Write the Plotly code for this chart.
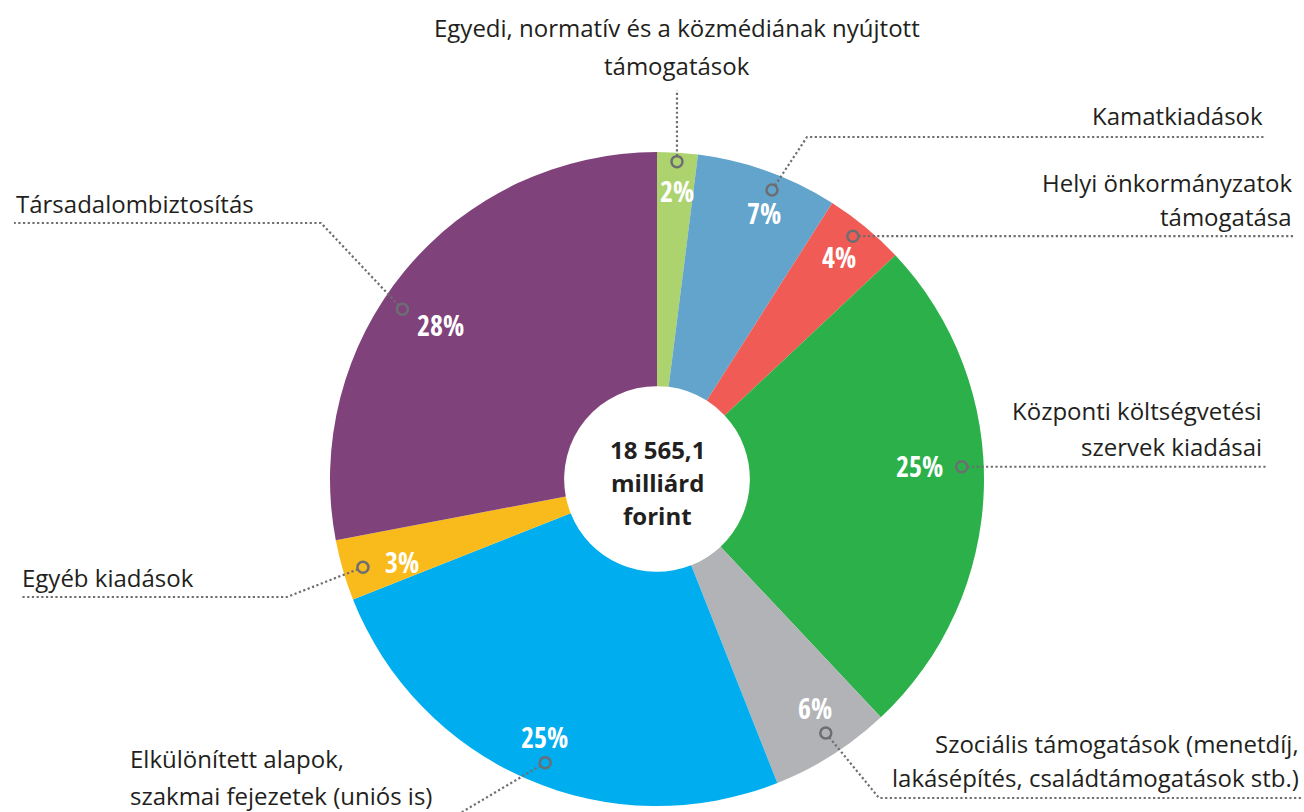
import math
import plotly.graph_objects as go

W, H = 1304, 812

# Budget expenditure categories, clockwise from 12 o'clock
categories = [
    "Egyedi, normatív és a közmédiának nyújtott támogatások",
    "Kamatkiadások",
    "Helyi önkormányzatok támogatása",
    "Központi költségvetési szervek kiadásai",
    "Szociális támogatások (menetdíj, lakásépítés, családtámogatások stb.)",
    "Elkülönített alapok, szakmai fejezetek (uniós is)",
    "Egyéb kiadások",
    "Társadalombiztosítás",
]
shares = [2, 7, 4, 25, 6, 25, 3, 28]
center_lines = ["18 565,1", "milliárd", "forint"]

# How each category name wraps on the page
label_lines = [
    ["Egyedi, normatív és a közmédiának nyújtott", "támogatások"],
    ["Kamatkiadások"],
    ["Helyi önkormányzatok", "támogatása"],
    ["Központi költségvetési", "szervek kiadásai"],
    ["Szociális támogatások (menetdíj,", "lakásépítés, családtámogatások stb.)"],
    ["Elkülönített alapok,", "szakmai fejezetek (uniós is)"],
    ["Egyéb kiadások"],
    ["Társadalombiztosítás"],
]

colors = ["#add36f", "#62a4cb", "#f05c55", "#2cb04a",
          "#b2b3b6", "#00adee", "#f9bb1b", "#80427b"]

# ---- styling / layout -------------------------------------------------
TEXT = "#231f20"
GREY = "#6d6e71"
LABEL_FONT = "'Open Sans', 'Noto Sans', sans-serif"
PCT_FONT = ("'Noto Sans Condensed', 'Open Sans Condensed', 'Roboto Condensed', "
            "'Liberation Sans Narrow', 'DejaVu Sans Condensed', sans-serif")
CX, CY, R = 657, 479, 327          # pie centre and radius (px)
HOLE = 0.284

# callout ring: angular nudge (deg) and radius (px) per slice
ring_nudge = [0, 1.9, -0.7, -4.1, -1.2, -1.9, -0.5, -5.9]
ring_rad = [318, 311, 312, 305, 305, 305, 307, 306]
# percentage text: angular nudge (deg) and radius (px) per slice
pct_nudge = [0.4, 2.1, -0.3, -4.6, -2.2, 0.1, -1.8, -4.2]
pct_rad = [289, 287, 287, 263, 278, 281, 268, 266]

# leader-line waypoints after the ring (px)
leader_path = [
    [(None, 90)],
    [(807, 137), (1266, 137)],
    [(1295, None)],
    [(1267, None)],
    [(879, 798), (1302, 798)],
    [(452, 818)],
    [(287, 597), (20, 597)],
    [(321, 223), (14, 223)],
]
# label anchor: (x, first line centre y, line step, xanchor)
label_anchor = [
    (677, 28, 38, "center"),
    (1265, 116, 0, "right"),
    (1294, 182, 34, "right"),
    (1264, 410, 36, "right"),
    (1301, 743, 34, "right"),
    (128, 758, 37, "left"),
    (20, 577, 0, "left"),
    (14, 203, 0, "left"),
]


def px(x):
    return x / W


def py(y):
    return 1 - y / H


def polar(angle_deg, r):
    a = math.radians(angle_deg)
    return CX + r * math.sin(a), CY - r * math.cos(a)


total = sum(shares)
mids = []
acc = 0
for v in shares:
    mids.append((acc + v / 2) / total * 360)
    acc += v

fig = go.Figure()
fig.add_trace(go.Pie(
    labels=categories,
    values=shares,
    sort=False,
    direction="clockwise",
    rotation=0,
    hole=HOLE,
    marker=dict(colors=colors, line=dict(width=0)),
    textinfo="none",
    hoverinfo="label+percent",
    showlegend=False,
    domain=dict(x=[px(CX - R), px(CX + R)], y=[py(CY + R), py(CY - R)]),
))

shapes = []
annotations = []
RING = 5.5
for i, v in enumerate(shares):
    mx, my = polar(mids[i] + ring_nudge[i], ring_rad[i])

    # dotted leader line from ring edge through the waypoints
    pts = []
    for (wx, wy) in leader_path[i]:
        pts.append((mx if wx is None else wx, my if wy is None else wy))
    fx, fy = pts[0]
    d = math.hypot(fx - mx, fy - my)
    sx, sy = mx + (fx - mx) / d * RING, my + (fy - my) / d * RING
    path = f"M{px(sx)},{py(sy)}" + "".join(f" L{px(x)},{py(y)}" for x, y in pts)
    shapes.append(dict(type="path", xref="paper", yref="paper", path=path,
                       line=dict(color=GREY, width=2.2, dash="2.2px,2.5px"),
                       layer="above"))
    shapes.append(dict(type="circle", xref="paper", yref="paper",
                       x0=px(mx - RING), x1=px(mx + RING),
                       y0=py(my + RING), y1=py(my - RING),
                       line=dict(color=GREY, width=2.5),
                       fillcolor="rgba(0,0,0,0)", layer="above"))

    # percentage inside the slice
    tx, ty = polar(mids[i] + pct_nudge[i], pct_rad[i])
    annotations.append(dict(x=px(tx), y=py(ty), xref="paper", yref="paper",
                            text=f"{v}%", showarrow=False,
                            xanchor="center", yanchor="middle",
                            font=dict(family=PCT_FONT, size=28, color="white",
                                      weight="bold")))

    # category name
    ax, ay, step, anchor = label_anchor[i]
    for k, line in enumerate(label_lines[i]):
        annotations.append(dict(x=px(ax), y=py(ay + k * step),
                                xref="paper", yref="paper",
                                text=line, showarrow=False,
                                xanchor=anchor, yanchor="middle",
                                font=dict(family=LABEL_FONT, size=24,
                                          color=TEXT)))

# total in the hole
for k, line in enumerate(center_lines):
    annotations.append(dict(x=px(CX), y=py(CY - 30 + k * 33),
                            xref="paper", yref="paper",
                            text=line, showarrow=False,
                            xanchor="center", yanchor="middle",
                            font=dict(family=LABEL_FONT, size=24, color=TEXT,
                                      weight="bold")))

fig.update_layout(
    width=W, height=H,
    margin=dict(l=0, r=0, t=0, b=0),
    paper_bgcolor="white",
    plot_bgcolor="white",
    shapes=shapes,
    annotations=annotations,
)

fig.write_html("out.html")
